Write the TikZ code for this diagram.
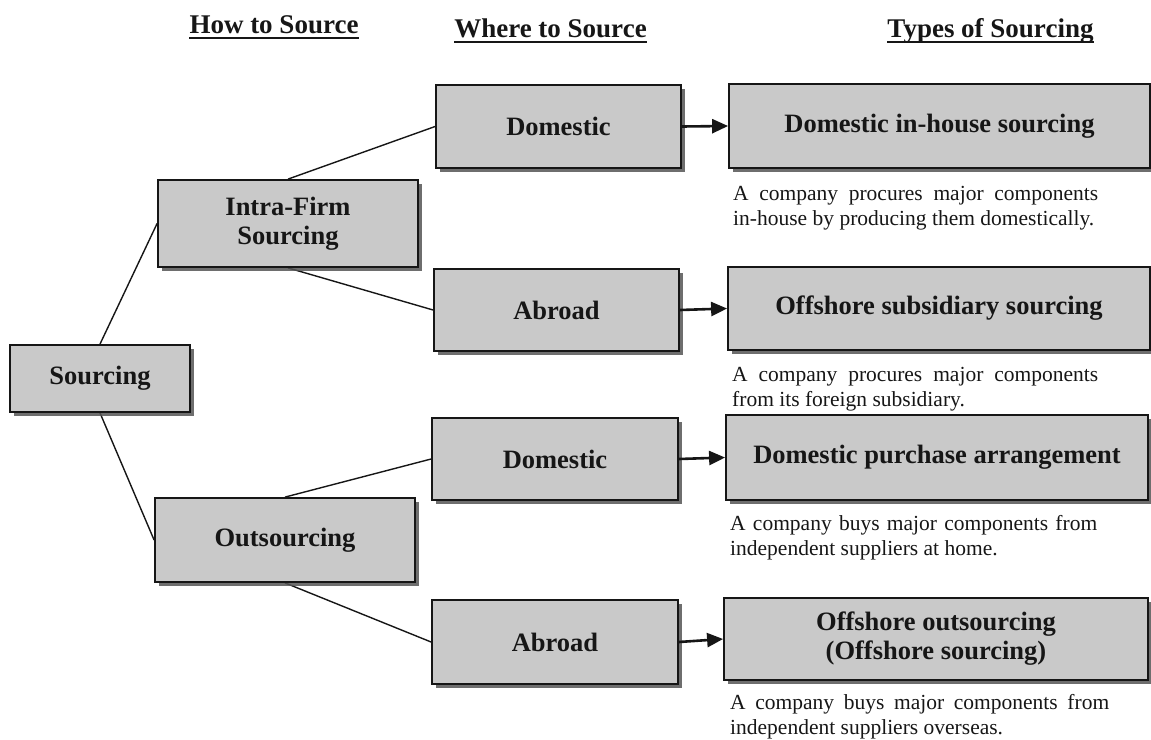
\documentclass[tikz,border=0pt]{standalone}
\usepackage{fontspec}
\setmainfont{Liberation Serif}
\usetikzlibrary{arrows.meta,shadows,backgrounds}

\definecolor{boxgray}{RGB}{201,201,201}
\definecolor{shadowgray}{RGB}{85,85,85}
\definecolor{ink}{RGB}{22,22,22}

\newcommand{\boxfont}{\fontsize{26.5}{29}\selectfont\bfseries}
\newcommand{\headfont}{\fontsize{27}{30}\selectfont\bfseries}
\newcommand{\descfont}{\fontsize{21.5}{25}\selectfont}

\begin{document}
\begin{tikzpicture}[x=1pt,y=-1pt,
  box/.style={draw=ink, line width=1.8pt, fill=boxgray, text=ink,
    font=\boxfont, align=center, inner sep=0pt,
    drop shadow={shadow xshift=4pt, shadow yshift=-4pt,
      fill=shadowgray, opacity=0.85}},
  head/.style={font=\headfont, text=ink, inner sep=0pt, anchor=base},
  uline/.style={draw=ink, line width=2.6pt},
  desc/.style={font=\descfont, text=ink, inner sep=0pt, align=left,
    anchor=base west},
  link/.style={draw=ink, line width=1.4pt},
  arr/.style={draw=ink, line width=2.6pt,
    -{Triangle[length=16pt,width=14pt]}}]

\useasboundingbox (0,0) rectangle (1151,739);

% column headings
\node[head] (h1) at (274,33) {How to Source};
\node[head] (h2) at (550.5,37) {Where to Source};
\node[head] (h3) at (990.5,37) {Types of Sourcing};
\foreach \h in {h1,h2,h3}
  \draw[uline] ([yshift=-5pt]\h.base west) -- ([yshift=-5pt]\h.base east);

% how to source
\node[box, minimum width=180pt, minimum height=67pt] (src) at (100,378.5) {Sourcing};
\node[box, minimum width=260pt, minimum height=87pt] (intra) at (288,223.5) {Intra-Firm\\Sourcing};
\node[box, minimum width=260pt, minimum height=84pt] (out) at (285,540) {Outsourcing};

% where to source
\node[box, minimum width=245pt, minimum height=83pt] (dom1) at (558.5,126.5) {Domestic};
\node[box, minimum width=245pt, minimum height=82pt] (abr1) at (556.5,310) {Abroad};
\node[box, minimum width=246pt, minimum height=82pt] (dom2) at (555,459) {Domestic};
\node[box, minimum width=246pt, minimum height=84pt] (abr2) at (555,642) {Abroad};

% types of sourcing
\node[box, minimum width=421pt, minimum height=84pt] (t1) at (939.5,126) {Domestic in-house sourcing};
\node[box, minimum width=422pt, minimum height=83pt] (t2) at (939,308.5) {Offshore subsidiary sourcing};
\node[box, minimum width=422pt, minimum height=85pt] (t3) at (937,457.5) {Domestic purchase arrangement};
\node[box, minimum width=424pt, minimum height=82pt] (t4) at (936,639) {Offshore outsourcing\\(Offshore sourcing)};

% explanations (anchored on the baseline of the second line)
\node[desc] (d1) at (733,225) {\makebox[365pt][s]{A company procures major components}\\in-house by producing them domestically.};
\node[desc] (d2) at (732,406) {\makebox[366pt][s]{A company procures major components}\\from its foreign subsidiary.};
\node[desc] (d3) at (730,555) {\makebox[367pt][s]{A company buys major components from}\\independent suppliers at home.};
\node[desc] (d4) at (730,734) {\makebox[379pt][s]{A company buys major components from}\\independent suppliers overseas.};

% tree links
\begin{scope}[on background layer]
  \draw[link] (src.north) -- (intra.west);
  \draw[link] (src.south) -- (out.west);
  \draw[link] (intra.north) -- (dom1.west);
  \draw[link] (intra.south) -- (abr1.west);
  \draw[link] (out.north) -- (dom2.west);
  \draw[link] (out.south) -- (abr2.west);
\end{scope}

% arrows to sourcing types
\draw[arr] (dom1.east) -- (t1.west);
\draw[arr] (abr1.east) -- (t2.west);
\draw[arr] (dom2.east) -- (t3.west);
\draw[arr] (abr2.east) -- (t4.west);
\end{tikzpicture}
\end{document}
